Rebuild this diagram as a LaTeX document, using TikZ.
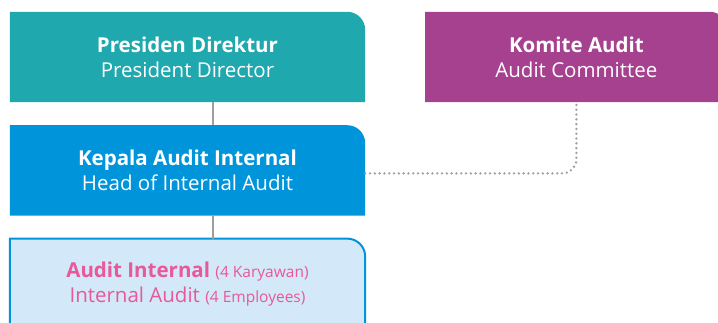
\documentclass[tikz,border=0pt]{standalone}
\usepackage{xcolor}
\usepackage{fontspec}
\setmainfont{Open Sans}
\usepackage{tikz}
\usetikzlibrary{positioning, calc}
\definecolor{presteal}{HTML}{1FA8AE}
\definecolor{headblue}{HTML}{0095DA}
\definecolor{komitepurple}{HTML}{A6418F}
\definecolor{auditfill}{HTML}{D3E8F8}
\definecolor{auditpink}{HTML}{E8589A}
\definecolor{linkgray}{HTML}{9E9E9E}
\pgfdeclarelayer{background}
\pgfsetlayers{background,main}
\newcommand{\tabshape}[2]{(#1.south west) -- (#1.north west) -- ([xshift=-#2]#1.north east) arc[start angle=90, end angle=0, radius=#2] -- (#1.south east) -- cycle}
\newcommand{\staffcount}[1]{{\fontsize{15.5}{25}\selectfont #1}}
\tikzset{
	orgbox/.style={minimum width=355pt, minimum height=90pt, inner sep=0pt, align=center, text=white, font=\fontsize{20.5}{25}\selectfont},
	solidlink/.style={linkgray, line width=2.4pt},
	dotlink/.style={linkgray, line width=2.6pt, line cap=round, dash pattern=on 0pt off 4.8pt, rounded corners=14pt}
}

\begin{document}
\begin{tikzpicture}[x=1pt, y=1pt]
		\useasboundingbox (0,0) rectangle (718,-323);
		\clip (0,0) rectangle (718,-323);
		\node[orgbox] (presdir) at (187.5,-57) {\textbf{Presiden Direktur}\\President Director};
		\node[orgbox, below=23pt of presdir] (headaudit) {\textbf{Kepala Audit Internal}\\Head of Internal Audit};
		\node[orgbox, below=23pt of headaudit, text=auditpink] (intaudit) {\textbf{Audit Internal} \staffcount{(4 Karyawan)}\\Internal Audit \staffcount{(4 Employees)}};
		\node[orgbox, minimum width=302pt, right=60pt of presdir] (committee) {\textbf{Komite Audit}\\Audit Committee};
		\coordinate (spine) at (213,0);
		
		\begin{pgfonlayer}{background}
		\fill[presteal] \tabshape{presdir}{18pt};
		\fill[headblue] \tabshape{headaudit}{18pt};
		\fill[komitepurple] \tabshape{committee}{18pt};
		\filldraw[fill=auditfill, draw=headblue, line width=2pt] \tabshape{intaudit}{18pt};
		\end{pgfonlayer}
		
		\draw[solidlink] (presdir.south -| spine) -- (headaudit.north -| spine);
		\draw[solidlink] (headaudit.south -| spine) -- (intaudit.north -| spine);
		\draw[dotlink] ([yshift=-3pt]headaudit.east) -| (committee.south);
\end{tikzpicture}
\end{document}
